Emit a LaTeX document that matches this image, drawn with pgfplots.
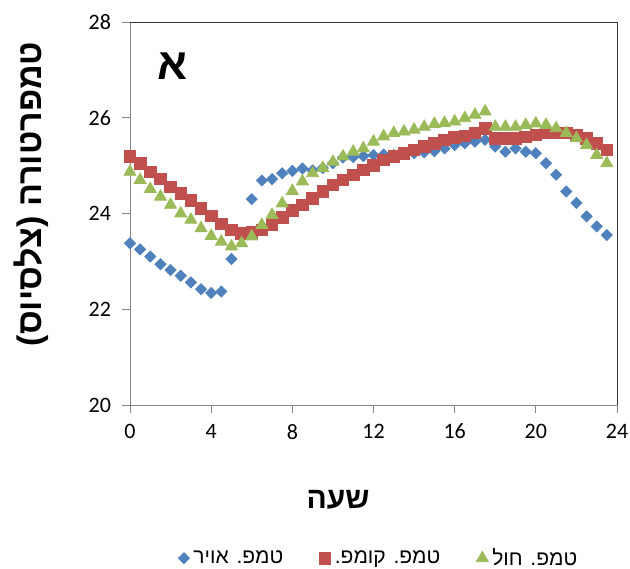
\documentclass[border=0pt]{standalone}
\usepackage{fontspec}
\usepackage{pgfplots}
\pgfplotsset{compat=1.18}
\setmainfont{Carlito}
\newfontfamily\hebfont[Script=Hebrew]{Liberation Sans}
\TeXXeTstate=1

\definecolor{airblue}{HTML}{4F81BD}
\definecolor{compred}{HTML}{C0504D}
\definecolor{sandgreen}{HTML}{9BBB59}
\definecolor{axisgray}{HTML}{868686}

% hour, air temp, compost temp, sand temp
\pgfplotstableread{
t    air   comp  sand
0.0  23.38 25.19 24.87
0.5  23.25 25.05 24.70
1.0  23.10 24.87 24.51
1.5  22.94 24.72 24.35
2.0  22.82 24.56 24.18
2.5  22.70 24.42 24.00
3.0  22.56 24.28 23.87
3.5  22.42 24.11 23.69
4.0  22.34 23.95 23.53
4.5  22.37 23.78 23.41
5.0  23.05 23.66 23.31
5.5  23.60 23.59 23.38
6.0  24.30 23.60 23.52
6.5  24.69 23.66 23.76
7.0  24.72 23.76 23.97
7.5  24.84 23.92 24.21
8.0  24.89 24.06 24.47
8.5  24.94 24.18 24.67
9.0  24.90 24.32 24.84
9.5  24.95 24.46 24.95
10.0 25.05 24.60 25.08
10.5 25.17 24.70 25.19
11.0 25.18 24.81 25.29
11.5 25.20 24.91 25.36
12.0 25.22 25.01 25.50
12.5 25.23 25.12 25.61
13.0 25.22 25.19 25.68
13.5 25.24 25.26 25.71
14.0 25.26 25.33 25.75
14.5 25.28 25.40 25.81
15.0 25.30 25.47 25.87
15.5 25.36 25.54 25.89
16.0 25.43 25.59 25.92
16.5 25.47 25.62 25.99
17.0 25.50 25.68 26.06
17.5 25.54 25.78 26.13
18.0 25.40 25.57 25.81
18.5 25.29 25.57 25.81
19.0 25.36 25.57 25.81
19.5 25.29 25.60 25.85
20.0 25.26 25.64 25.88
20.5 25.05 25.68 25.85
21.0 24.81 25.68 25.78
21.5 24.46 25.68 25.68
22.0 24.22 25.64 25.57
22.5 23.94 25.57 25.43
23.0 23.73 25.47 25.22
23.5 23.55 25.33 25.05
}\tempdata

\begin{document}
\begin{tikzpicture}
\useasboundingbox (-65pt,-81.5pt) rectangle (250pt,202.5pt);
\begin{axis}[
    at={(0,0)}, anchor=south west,
    scale only axis, width=243.5pt, height=191.5pt,
    xmin=0, xmax=24, ymin=20, ymax=28,
    xtick={0,4,...,24}, ytick={20,22,...,28},
    axis line style={draw=axisgray},
    tick style={draw=axisgray, thin},
    tick align=outside, xtick pos=bottom, ytick pos=left,
    major tick length=4pt,
    ticklabel style={font=\fontsize{11}{13}\selectfont},
    yticklabel style={xshift=-2pt},
    xticklabel style={yshift=-2pt},
    /pgf/number format/assume math mode=true,
    clip=false,
    legend columns=3,
    legend style={at={(0.513,-0.4)}, anchor=center, draw=none, fill=none,
        font=\hebfont\fontsize{10.5}{12}\selectfont,
        /tikz/every even column/.append style={column sep=16pt}},
    legend image code/.code={\draw[mark repeat=2,mark phase=2,#1] plot coordinates {(0pt,0pt)(3pt,0pt)(6pt,0pt)};},
]
\addplot[only marks, mark=square*, mark size=1.95pt, mark options={rotate=45, fill=airblue, draw=airblue}]
    table[x=t, y=air] {\tempdata};
\addlegendentry{\beginR טמפ. אויר\endR}
\addplot[only marks, mark=square*, mark size=2.9pt, mark options={fill=compred, draw=compred}]
    table[x=t, y=comp] {\tempdata};
\addlegendentry{\beginR טמפ. קומפ.\endR}
\addplot[only marks, mark=triangle*, mark size=3.45pt, mark options={fill=sandgreen, draw=sandgreen}]
    table[x=t, y=sand] {\tempdata};
\addlegendentry{\beginR טמפ. חול\endR}
\draw[black!80] (rel axis cs:0,1) -- (rel axis cs:1,1) -- (rel axis cs:1,0);
\node[font=\hebfont\bfseries\fontsize{22}{24}\selectfont] at (rel axis cs:0.088,0.885) {\beginR א\endR};
\end{axis}
\node[font=\hebfont\bfseries\fontsize{15}{17}\selectfont] at (104pt,-47.5pt) {\beginR שעה\endR};
\node[font=\hebfont\bfseries\fontsize{17}{19}\selectfont, rotate=90] at (-49.25pt,105.5pt) {\beginR טמפרטורה (צלסיוס)\endR};
\end{tikzpicture}
\end{document}
